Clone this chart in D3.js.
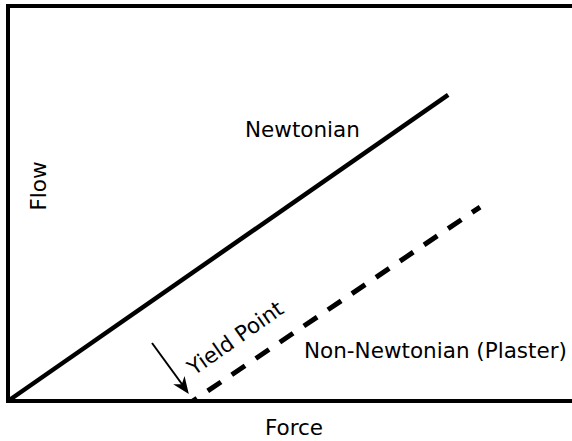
<!DOCTYPE html>
<html><head><meta charset="utf-8">
<script src="https://cdn.jsdelivr.net/npm/d3@7"></script>
<style>html,body{margin:0;padding:0;background:#fff;}svg{display:block;}</style>
</head><body>
<script>
// Data (force, flow)
const newtonian = [[0, 0], [7.86, 7.75]];
const plaster = [[3.3, 0], [8.43, 4.91]];
const yieldForce = 3.3;
const labels = ["Newtonian", "Non-Newtonian (Plaster)", "Yield Point"];
const axisTitles = {x: "Force", y: "Flow"};

const W = 572, H = 441;
const svg = d3.select("body").append("svg").attr("width", W).attr("height", H);
const x = d3.scaleLinear().domain([0, 10]).range([8, 568]);
const y = d3.scaleLinear().domain([0, 10]).range([401, 6]);
const font = "DejaVu Sans, Verdana, sans-serif";

// frame (left and top), bottom axis
svg.append("path").attr("d", `M${x(0)},${y(0)+2}V${y(10)}H${W+10}`)
  .attr("fill", "none").attr("stroke", "#000").attr("stroke-width", 4);
svg.append("line").attr("x1", x(0)-2).attr("x2", W+10).attr("y1", y(0)).attr("y2", y(0))
  .attr("stroke", "#000").attr("stroke-width", 4);

const line = d3.line().x(d => x(d[0])).y(d => y(d[1]));
svg.append("path").datum(newtonian).attr("d", line)
  .attr("fill", "none").attr("stroke", "#000").attr("stroke-width", 4.5);
svg.append("path").datum(plaster).attr("d", line)
  .attr("fill", "none").attr("stroke", "#000").attr("stroke-width", 5)
  .attr("stroke-dasharray", "16,13").attr("stroke-dashoffset", 11);

// arrow to yield point
const tipX = x(yieldForce) - 4, tipY = y(0) - 7;
const ang = Math.atan2(tipY - 343, tipX - 152) * 180 / Math.PI;
svg.append("line").attr("x1", 152).attr("y1", 343).attr("x2", tipX - 4).attr("y2", tipY - 6)
  .attr("stroke", "#000").attr("stroke-width", 2);
svg.append("path")
  .attr("d", "M0,0L-17,-7L-12,0L-17,7Z")
  .attr("fill", "#000")
  .attr("transform", `translate(${tipX},${tipY}) rotate(${ang})`);

const t = (s, xx, yy, opts = {}) => svg.append("text").text(s)
  .attr("x", xx).attr("y", yy).attr("font-family", font).attr("font-size", opts.size || 21.5)
  .attr("text-anchor", opts.anchor || "start")
  .attr("transform", opts.rot ? `rotate(${opts.rot},${xx},${yy})` : null)
  .attr("fill", "#000");

t(labels[0], 245, 137);
t(labels[1], 304, 358);
t(labels[2], 194, 376, {rot: -35});
t(axisTitles.x, 294, 435, {anchor: "middle"});
t(axisTitles.y, 46, 186, {anchor: "middle", rot: -90});
</script>
</body></html>
